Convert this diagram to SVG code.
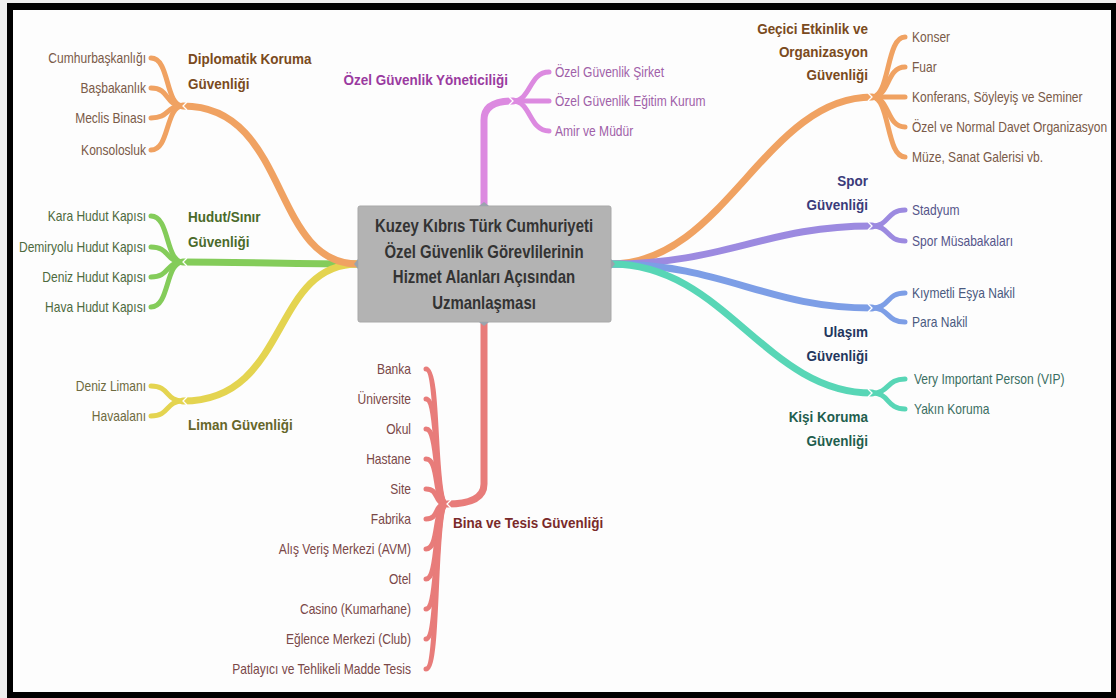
<svg xmlns="http://www.w3.org/2000/svg" width="1116" height="698" viewBox="0 0 1116 698">
<style>
text{font-family:"Liberation Sans",Arial,sans-serif}
.lf{font-size:14px}
.tt{font-size:15.5px;font-weight:bold}
.ct{font-size:18px;font-weight:bold;fill:#333}
.e{text-anchor:end}
.m{text-anchor:middle}
.br{fill:none;stroke-linecap:round;stroke-width:7}
.sb{fill:none;stroke-linecap:round;stroke-width:5}
.ch{fill:none;stroke:#fff;stroke-width:1.3}
</style>
<rect x="0" y="0" width="1116" height="698" fill="#eeeeee"/>
<rect x="7" y="3" width="1109" height="695" fill="#000"/>
<rect x="13" y="10" width="1098" height="682" fill="#fdfdfd"/>

<g id="connectors">
  <!-- left -->
  <path class="br" stroke="#84cc5a" d="M358,264 C300,264 240,262 183,262"/>
  <path class="br" stroke="#e4d450" d="M358,264 C270,264 290,401 183,401"/>
  <path class="br" stroke="#f0a262" d="M358,264 C270,264 290,106 183,106"/>
  <g stroke="#f0a262">
    <path class="sb" d="M183,106 C165,106 170,58 151,58"/>
    <path class="sb" d="M183,106 C165,106 170,88 151,88"/>
    <path class="sb" d="M183,106 C165,106 170,118 151,118"/>
    <path class="sb" d="M183,106 C165,106 170,150 151,150"/>
  </g>
  <g stroke="#84cc5a">
    <path class="sb" d="M183,262 C165,262 170,216 151,216"/>
    <path class="sb" d="M183,262 C165,262 170,247 151,247"/>
    <path class="sb" d="M183,262 C165,262 170,277 151,277"/>
    <path class="sb" d="M183,262 C165,262 170,307 151,307"/>
  </g>
  <g stroke="#e4d450">
    <path class="sb" d="M183,401 C165,401 170,386 151,386"/>
    <path class="sb" d="M183,401 C165,401 170,416 151,416"/>
  </g>
  <!-- top -->
  <path class="br" stroke="#dc8ae0" d="M484,206 L484,120 Q484,101 513,101"/>
  <g stroke="#dc8ae0">
    <path class="sb" d="M513,101 C531,101 529,72 549,72"/>
    <path class="sb" d="M513,101 L549,101"/>
    <path class="sb" d="M513,101 C531,101 529,131 549,131"/>
  </g>
  <!-- bottom -->
  <path class="br" stroke="#e87c7a" d="M484,322 L484,484 Q484,504 447,504"/>
  <g stroke="#e87c7a">
    <path class="sb" d="M447,504 C433,504 440,369 426,369"/>
    <path class="sb" d="M447,504 C433,504 440,399 426,399"/>
    <path class="sb" d="M447,504 C433,504 440,429 426,429"/>
    <path class="sb" d="M447,504 C433,504 440,459 426,459"/>
    <path class="sb" d="M447,504 C433,504 440,489 426,489"/>
    <path class="sb" d="M447,504 C433,504 440,519 426,519"/>
    <path class="sb" d="M447,504 C433,504 440,549 426,549"/>
    <path class="sb" d="M447,504 C433,504 440,579 426,579"/>
    <path class="sb" d="M447,504 C433,504 440,609 426,609"/>
    <path class="sb" d="M447,504 C433,504 440,639 426,639"/>
    <path class="sb" d="M447,504 C433,504 440,669 426,669"/>
  </g>
  <!-- right -->
  <path class="br" stroke="#f0a262" d="M611,264 C725,264 765,97 872,97"/>
  <path class="br" stroke="#9c8ae0" d="M611,264 C725,264 765,226 872,226"/>
  <path class="br" stroke="#7d9ee6" d="M611,264 C725,264 765,308 872,308"/>
  <path class="br" stroke="#58d6b6" d="M611,264 C725,264 765,393 872,393"/>
  <g stroke="#f0a262">
    <path class="sb" d="M872,97 C890,97 886,37 905,37"/>
    <path class="sb" d="M872,97 C890,97 886,67 905,67"/>
    <path class="sb" d="M872,97 L905,97"/>
    <path class="sb" d="M872,97 C890,97 886,127 905,127"/>
    <path class="sb" d="M872,97 C890,97 886,157 905,157"/>
  </g>
  <g stroke="#9c8ae0">
    <path class="sb" d="M872,226 C890,226 886,210 905,210"/>
    <path class="sb" d="M872,226 C890,226 886,241 905,241"/>
  </g>
  <g stroke="#7d9ee6">
    <path class="sb" d="M872,308 C890,308 886,293 905,293"/>
    <path class="sb" d="M872,308 C890,308 886,322 905,322"/>
  </g>
  <g stroke="#58d6b6">
    <path class="sb" d="M872,393 C890,393 886,379 905,379"/>
    <path class="sb" d="M872,393 C890,393 886,409 905,409"/>
  </g>
  <!-- junction marks -->
  <polyline class="ch" points="187,102 183,106 187,110"/>
  <polyline class="ch" points="187,258 183,262 187,266"/>
  <polyline class="ch" points="187,397 183,401 187,405"/>
  <polyline class="ch" points="509,97 513,101 509,105"/>
  <polyline class="ch" points="451,500 447,504 451,508"/>
  <polyline class="ch" points="868,93 872,97 868,101"/>
  <polyline class="ch" points="868,222 872,226 868,230"/>
  <polyline class="ch" points="868,304 872,308 868,312"/>
  <polyline class="ch" points="868,389 872,393 868,397"/>
</g>

<g id="center">
  <rect x="358" y="206" width="253" height="116" rx="2" fill="#b3b3b3" stroke="#a9a9a9"/>
  <g fill="#9aa4ad">
    <path d="M358,259 l-4,5 l4,5 z"/>
    <path d="M611,259 l4,5 l-4,5 z"/>
    <path d="M479,206 l5,-4 l5,4 z"/>
    <path d="M479,322 l5,4 l5,-4 z"/>
  </g>
  <text class="ct m" transform="translate(484 232) scale(.83 1)">Kuzey Kıbrıs Türk Cumhuriyeti</text>
  <text class="ct m" transform="translate(484 258) scale(.83 1)">Özel Güvenlik Görevlilerinin</text>
  <text class="ct m" transform="translate(484 283) scale(.83 1)">Hizmet Alanları Açısından</text>
  <text class="ct m" transform="translate(484 309) scale(.83 1)">Uzmanlaşması</text>
</g>

<g id="diplomatik">
  <g fill="#7a4a20">
    <text class="tt" transform="translate(188 64) scale(.87 1)">Diplomatik Koruma</text>
    <text class="tt" transform="translate(188 89) scale(.87 1)">Güvenliği</text>
  </g>
  <g fill="#7a5a48">
    <text class="lf e" transform="translate(146 63) scale(.86 1)">Cumhurbaşkanlığı</text>
    <text class="lf e" transform="translate(146 93) scale(.86 1)">Başbakanlık</text>
    <text class="lf e" transform="translate(146 123) scale(.86 1)">Meclis Binası</text>
    <text class="lf e" transform="translate(146 155) scale(.86 1)">Konsolosluk</text>
  </g>
</g>

<g id="hudut">
  <g fill="#4a6a2a">
    <text class="tt" transform="translate(188 222) scale(.87 1)">Hudut/Sınır</text>
    <text class="tt" transform="translate(188 247) scale(.87 1)">Güvenliği</text>
  </g>
  <g fill="#4e6a3e">
    <text class="lf e" transform="translate(146 221) scale(.86 1)">Kara Hudut Kapısı</text>
    <text class="lf e" transform="translate(146 252) scale(.86 1)">Demiryolu Hudut Kapısı</text>
    <text class="lf e" transform="translate(146 282) scale(.86 1)">Deniz Hudut Kapısı</text>
    <text class="lf e" transform="translate(146 312) scale(.86 1)">Hava Hudut Kapısı</text>
  </g>
</g>

<g id="liman">
  <text class="tt" fill="#66662a" transform="translate(188 430) scale(.87 1)">Liman Güvenliği</text>
  <g fill="#6e6a40">
    <text class="lf e" transform="translate(146 391) scale(.86 1)">Deniz Limanı</text>
    <text class="lf e" transform="translate(146 421) scale(.86 1)">Havaalanı</text>
  </g>
</g>

<g id="yonetici">
  <text class="tt e" fill="#9a3aa0" transform="translate(508 85) scale(.87 1)">Özel Güvenlik Yöneticiliği</text>
  <g fill="#a060a8">
    <text class="lf" transform="translate(555 77) scale(.86 1)">Özel Güvenlik Şirket</text>
    <text class="lf" transform="translate(555 106) scale(.86 1)">Özel Güvenlik Eğitim Kurum</text>
    <text class="lf" transform="translate(555 136) scale(.86 1)">Amir ve Müdür</text>
  </g>
</g>

<g id="bina">
  <text class="tt" fill="#7a2a2a" transform="translate(453 528) scale(.87 1)">Bina ve Tesis Güvenliği</text>
  <g fill="#7a4848">
    <text class="lf e" transform="translate(411 374) scale(.86 1)">Banka</text>
    <text class="lf e" transform="translate(411 404) scale(.86 1)">Üniversite</text>
    <text class="lf e" transform="translate(411 434) scale(.86 1)">Okul</text>
    <text class="lf e" transform="translate(411 464) scale(.86 1)">Hastane</text>
    <text class="lf e" transform="translate(411 494) scale(.86 1)">Site</text>
    <text class="lf e" transform="translate(411 524) scale(.86 1)">Fabrika</text>
    <text class="lf e" transform="translate(411 554) scale(.86 1)">Alış Veriş Merkezi (AVM)</text>
    <text class="lf e" transform="translate(411 584) scale(.86 1)">Otel</text>
    <text class="lf e" transform="translate(411 614) scale(.86 1)">Casino (Kumarhane)</text>
    <text class="lf e" transform="translate(411 644) scale(.86 1)">Eğlence Merkezi (Club)</text>
    <text class="lf e" transform="translate(411 674) scale(.86 1)">Patlayıcı ve Tehlikeli Madde Tesis</text>
  </g>
</g>

<g id="gecici">
  <g fill="#7a4a20">
    <text class="tt e" transform="translate(868 34) scale(.87 1)">Geçici Etkinlik ve</text>
    <text class="tt e" transform="translate(868 57) scale(.87 1)">Organizasyon</text>
    <text class="tt e" transform="translate(868 80) scale(.87 1)">Güvenliği</text>
  </g>
  <g fill="#7a5a48">
    <text class="lf" transform="translate(912 42) scale(.86 1)">Konser</text>
    <text class="lf" transform="translate(912 72) scale(.86 1)">Fuar</text>
    <text class="lf" transform="translate(912 102) scale(.86 1)">Konferans, Söyleyiş ve Seminer</text>
    <text class="lf" transform="translate(912 132) scale(.86 1)">Özel ve Normal Davet Organizasyon</text>
    <text class="lf" transform="translate(912 162) scale(.86 1)">Müze, Sanat Galerisi vb.</text>
  </g>
</g>

<g id="spor">
  <g fill="#3a3a7a">
    <text class="tt e" transform="translate(868 186) scale(.87 1)">Spor</text>
    <text class="tt e" transform="translate(868 210) scale(.87 1)">Güvenliği</text>
  </g>
  <g fill="#55558a">
    <text class="lf" transform="translate(912 215) scale(.86 1)">Stadyum</text>
    <text class="lf" transform="translate(912 246) scale(.86 1)">Spor Müsabakaları</text>
  </g>
</g>

<g id="ulasim">
  <g fill="#23365e">
    <text class="tt e" transform="translate(868 337) scale(.87 1)">Ulaşım</text>
    <text class="tt e" transform="translate(868 361) scale(.87 1)">Güvenliği</text>
  </g>
  <g fill="#4a5a80">
    <text class="lf" transform="translate(912 298) scale(.86 1)">Kıymetli Eşya Nakil</text>
    <text class="lf" transform="translate(912 327) scale(.86 1)">Para Nakil</text>
  </g>
</g>

<g id="kisi">
  <g fill="#1f5e4e">
    <text class="tt e" transform="translate(868 422) scale(.87 1)">Kişi Koruma</text>
    <text class="tt e" transform="translate(868 446) scale(.87 1)">Güvenliği</text>
  </g>
  <g fill="#3a6e62">
    <text class="lf" transform="translate(914 384) scale(.86 1)">Very Important Person (VIP)</text>
    <text class="lf" transform="translate(914 414) scale(.86 1)">Yakın Koruma</text>
  </g>
</g>
</svg>
